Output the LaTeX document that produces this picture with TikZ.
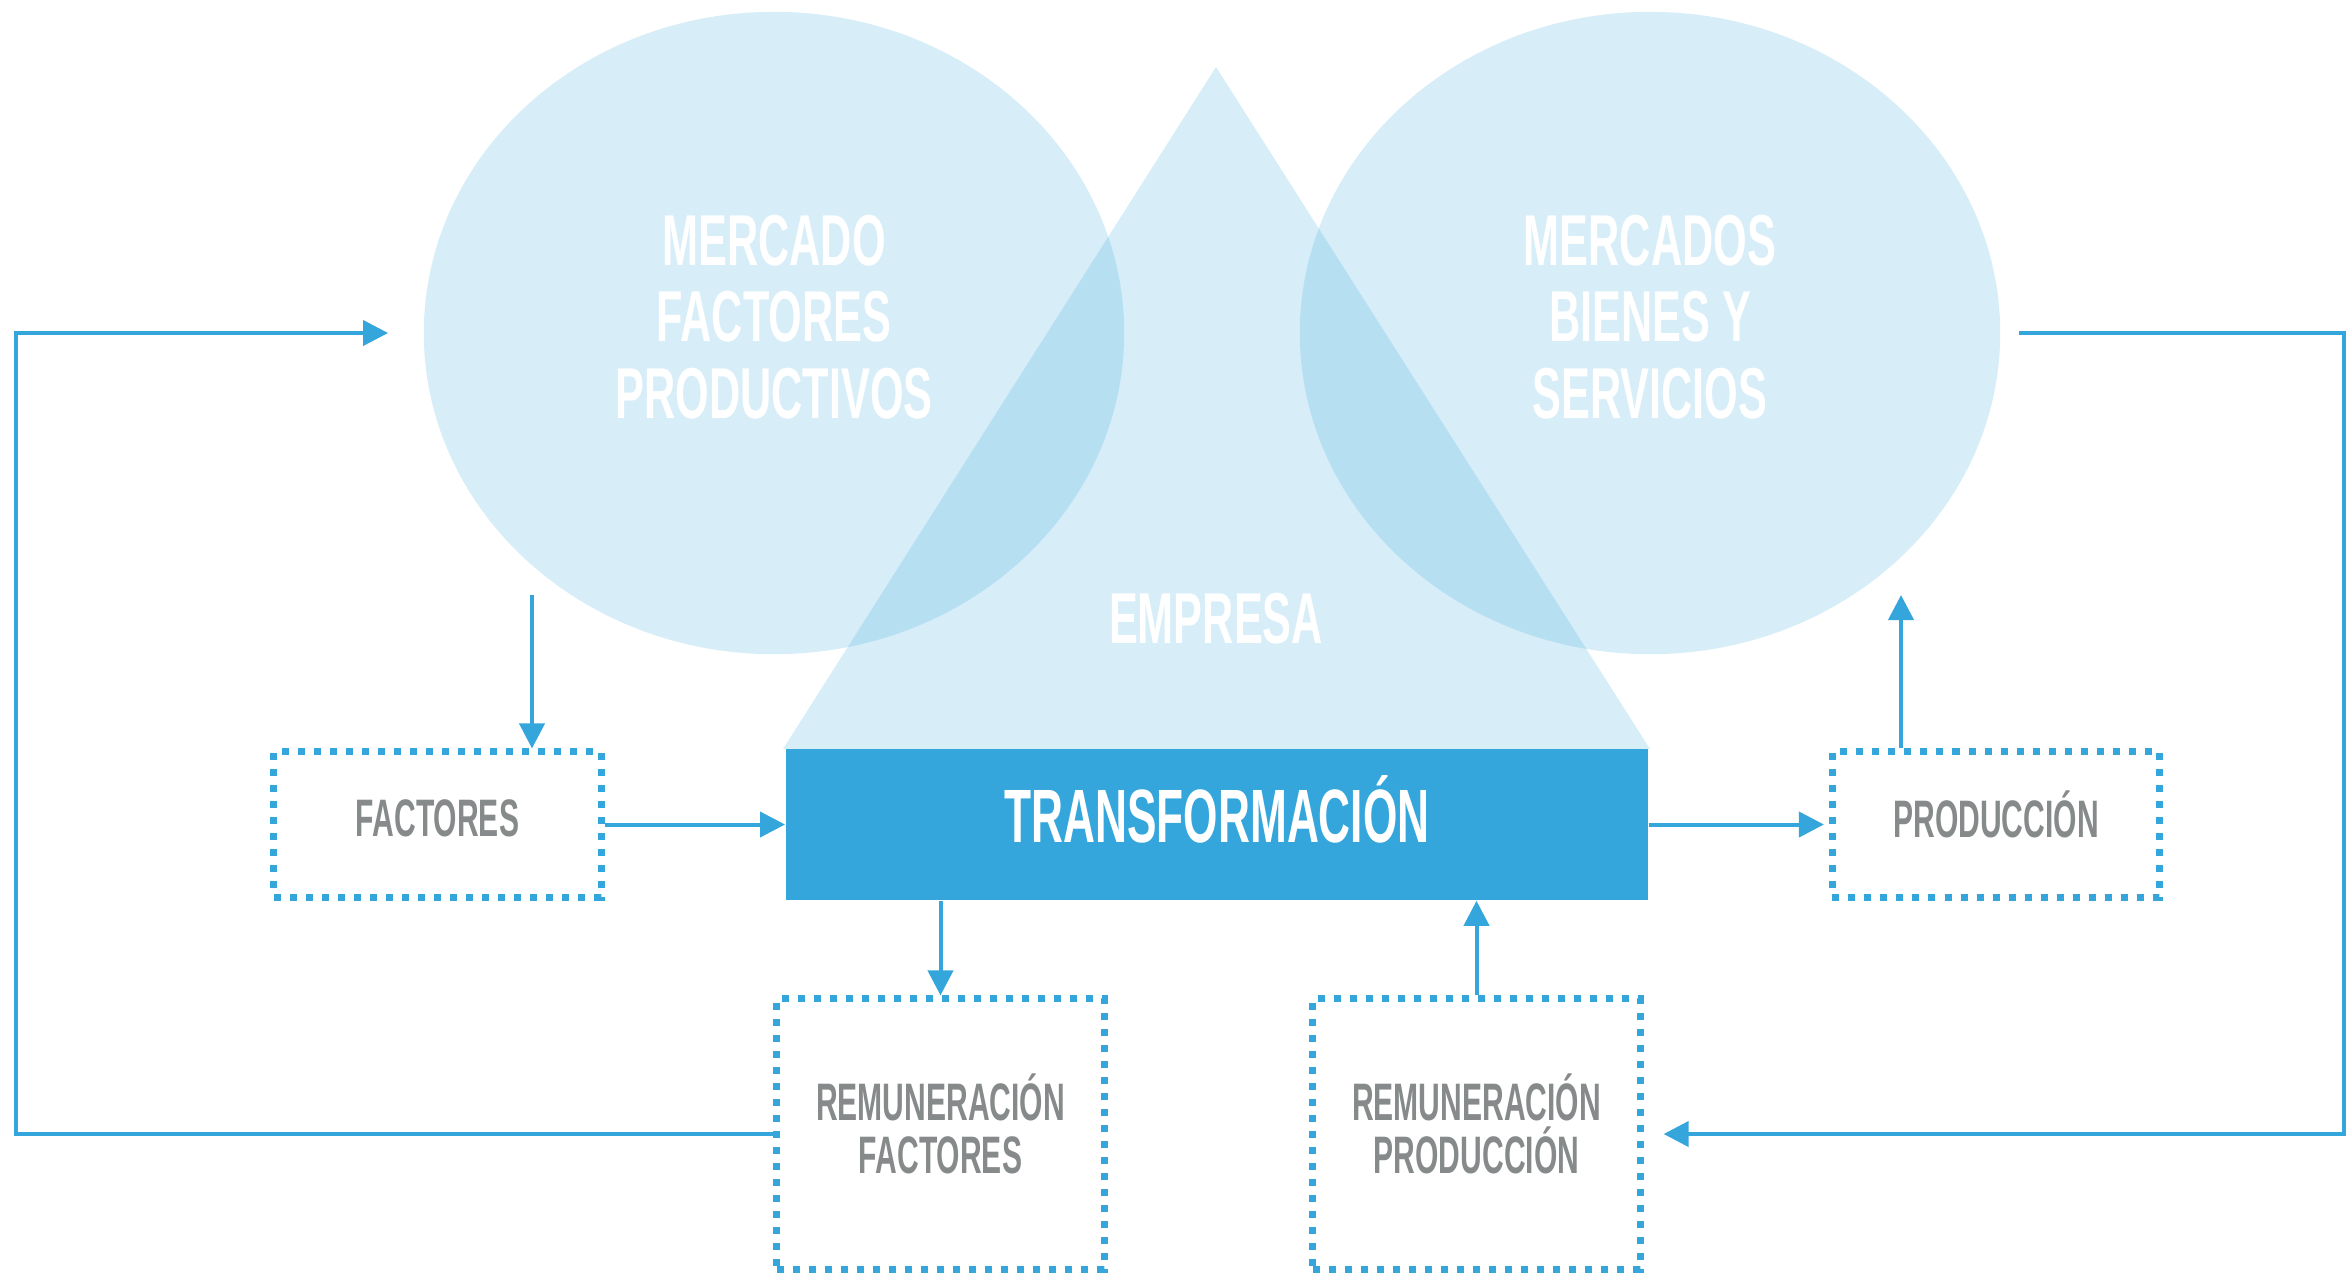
\documentclass[tikz,border=0pt]{standalone}
\usepackage{fontspec}
\newfontfamily\dinfont[FakeStretch=0.6]{Liberation Sans}
\newfontfamily\dinfontb[FakeStretch=0.585]{Liberation Sans}
\newfontfamily\dinfontc[FakeStretch=0.57]{Liberation Sans}
\usetikzlibrary{shapes.geometric,arrows.meta,positioning}
\definecolor{azul}{HTML}{35A6DB}
\definecolor{gris}{HTML}{878A8B}

\begin{document}
\begin{tikzpicture}[x=0.01cm,y=-0.01cm,
	every node/.style={align=center,inner sep=0},
	mercado/.style={ellipse,fill=azul,fill opacity=0.2,minimum width=7cm,minimum height=6.42cm},
	bigtxt/.style={text=white,font=\dinfont\bfseries\fontsize{20.5}{21.8}\selectfont},
	caja/.style={draw=azul,line width=0.07cm,dash pattern=on 0.07cm off 0.09cm,
		minimum width=3.27cm},
	cajatxt/.style={text=gris,font=\dinfontc\bfseries\fontsize{15}{15}\selectfont},
	flujo/.style={draw=azul,line width=0.04cm,-{Triangle[length=0.25cm,width=0.25cm]}}]
\useasboundingbox (0,0) rectangle (2349,1272);

\node[mercado] (mfp) at (774,333) {};
\node[mercado] (mbs) at (1650,333) {};
\fill[azul,fill opacity=0.2] (1216,67) -- (1650,749) -- (783,749) -- cycle;

\node[bigtxt] (mfpTxt) at (774,317) {MERCADO\\FACTORES\\PRODUCTIVOS};
\node[bigtxt] (mbsTxt) at (1650,317) {MERCADOS\\BIENES Y\\SERVICIOS};
\node[bigtxt] (empresa) at (1216,619) {EMPRESA};

\node[fill=azul,minimum width=8.62cm,minimum height=1.51cm] (transf) at (1217,824.5) {};
\node[text=white,font=\dinfontb\bfseries\fontsize{21.5}{22}\selectfont]
	(transfTxt) at ([yshift=0.15cm]transf.center) {TRANSFORMACIÓN};

\node[caja,minimum height=1.45cm] (factores) at (437.5,824.5) {};
\node[caja,minimum height=1.45cm] (produccion) at (1996,824.5) {};
\node[caja,minimum height=2.7cm] (remfac) at (940.5,1134) {};
\node[caja,minimum height=2.7cm] (remprod) at (1476.5,1134) {};

\node[cajatxt] (factoresTxt) at ([yshift=0.06cm]factores.center) {FACTORES};
\node[cajatxt] (produccionTxt) at ([yshift=0.1cm]produccion.center) {PRODUCCIÓN};
\node[cajatxt] (remfacTxt) at ([yshift=0.1cm]remfac.center) {REMUNERACIÓN\\FACTORES};
\node[cajatxt] (remprodTxt) at ([yshift=0.1cm]remprod.center) {REMUNERACIÓN\\PRODUCCIÓN};

\coordinate (bajaF) at (532,595);
\coordinate (subeP) at (1901,595);
\coordinate (esqI) at (16,333);
\coordinate (esqD) at (2344,1134);

\draw[flujo] (bajaF) -- (bajaF |- factores.north);
\draw[flujo] (factores) -- (transf);
\draw[flujo,shorten >=0.05cm] (transf) -- (produccion);
\draw[flujo] (subeP |- produccion.north) -- (subeP);
\draw[flujo] (transf.south -| remfac.north) -- (remfac.north);
\draw[flujo] (remprod.north) -- (remprod.north |- transf.south);
\draw[flujo,shorten >=0.35cm] (remfac.west) -| (esqI) -- (mfp.west);
\draw[flujo,shorten <=0.18cm,shorten >=0.2cm] (mbs.east) -| (esqD) -- (remprod.east);
\end{tikzpicture}
\end{document}
